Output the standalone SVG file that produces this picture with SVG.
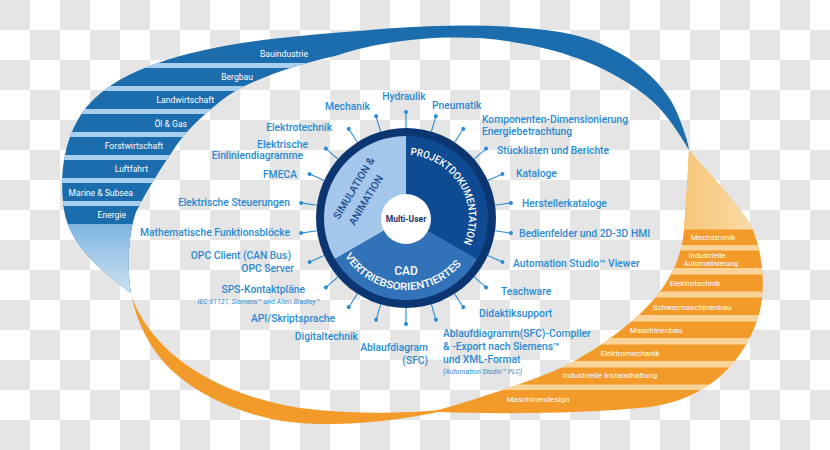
<svg xmlns="http://www.w3.org/2000/svg" width="830" height="450" viewBox="0 0 830 450">
<style>
.lbl{font-family:Roboto,'Liberation Sans',Arial,sans-serif;font-size:10.3px;font-weight:500;fill:#2b8bd2}
.end{text-anchor:end}
.mid{text-anchor:middle}
.sm{font-size:7px;font-style:italic;font-weight:400}
.band{font-family:Roboto,'Liberation Sans',Arial,sans-serif;font-size:8.6px;fill:#ffffff}
.oband{font-family:Roboto,'Liberation Sans',Arial,sans-serif;font-size:8px;fill:#ffffff;text-anchor:middle}
.spoke line{stroke:#2b8bd2;stroke-width:1.1}
.spoke circle{fill:#2b8bd2}
.sec{font-family:Roboto,'Liberation Sans',Arial,sans-serif;font-size:10.5px;font-weight:500;fill:#ffffff}
.bgap{fill:#a9cfee}
.ogap{fill:#fcd399}
</style>
<defs>
<pattern id="chk" width="60" height="60" patternUnits="userSpaceOnUse">
<rect width="60" height="60" fill="#ffffff"/>
<rect width="30" height="30" fill="#e5e5e5"/>
<rect x="30" y="30" width="30" height="30" fill="#e5e5e5"/>
</pattern>
<path id="bluePath" d="M131,293 C100,270 70,245 64,210 C58,170 66,125 95,98 C130,65 200,45 300,36 C400,27 480,20 560,32 C620,42 665,80 678,115 C684,130 688,142 689,150 C680,135 665,110 645,95 C610,68 560,45 480,38 C420,35 370,44 335,56 C290,66 245,82 222,100 C205,114 188,128 176,146 C165,162 148,188 136,212 C128,235 127,268 131,293 Z"/>
<path id="orangePath" d="M689,150 C705,170 740,205 752,228 C762,250 766,285 760,310 C754,335 740,360 716,380 C695,395 680,402 650,407 C580,414 500,414 438,412 C400,420 340,428 290,422 C230,414 180,385 158,355 C145,338 135,315 132,297 C140,320 155,338 170,352 C200,378 240,398 300,408 C350,414 400,414 438,410 C480,398 530,382 565,366 C600,348 635,322 655,298 C672,277 682,255 684,230 C686,205 688,175 689,150 Z"/>
<clipPath id="blueClip"><use href="#bluePath"/></clipPath>
<clipPath id="orangeClip"><use href="#orangePath"/></clipPath>
<linearGradient id="tailG" x1="0" y1="0" x2="0" y2="1">
<stop offset="0" stop-color="#7fb4e0"/>
<stop offset="1" stop-color="#d3e6f6"/>
</linearGradient>
<linearGradient id="oTopG" x1="0" y1="0" x2="1" y2="0">
<stop offset="0" stop-color="#f5bd63"/>
<stop offset="0.55" stop-color="#f8cf8c"/>
<stop offset="1" stop-color="#fde5c0"/>
</linearGradient>
<path id="projArc" d="M410.4,155.2 A63,63 0 0,1 462,246.6"/>
<path id="vertArc" d="M344.9,256.2 A72,72 0 0,0 467.1,256.2"/>
</defs>

<rect width="830" height="450" fill="url(#chk)"/>

<g id="orange-band">
<use href="#orangePath" fill="#f39b2a"/>
<g clip-path="url(#orangeClip)">
<rect x="640" y="140" width="140" height="89.5" fill="url(#oTopG)"/>
<rect class="ogap" x="430" y="245" width="350" height="5.5"/>
<rect class="ogap" x="430" y="268" width="350" height="6.5"/>
<rect class="ogap" x="430" y="291.5" width="350" height="6"/>
<rect class="ogap" x="430" y="315" width="350" height="6.5"/>
<rect class="ogap" x="430" y="338" width="350" height="6.5"/>
<rect class="ogap" x="430" y="361" width="350" height="6.5"/>
<rect class="ogap" x="430" y="384.5" width="350" height="5.5"/>
</g>
<text class="oband" x="713" y="240">Mechatronik</text>
<text class="oband" x="707" y="257.5" style="font-size:7.4px">Industrielle</text>
<text class="oband" x="711" y="266" style="font-size:7.4px">Automatisierung</text>
<text class="oband" x="695" y="285.5">Elektrotechnik</text>
<text class="oband" x="692" y="309.5">Schwermaschinenbau</text>
<text class="oband" x="656" y="333">Maschinenbau</text>
<text class="oband" x="630" y="355.5">Elektromechanik</text>
<text class="oband" x="610" y="378">Industrielle Instandhaltung</text>
<text class="oband" x="538" y="401.5">Maschinendesign</text>
</g>

<g id="blue-band">
<use href="#bluePath" fill="#1c6dad"/>
<g clip-path="url(#blueClip)">
<rect class="bgap" x="50" y="63" width="300" height="5"/>
<rect class="bgap" x="50" y="86" width="300" height="5"/>
<rect class="bgap" x="50" y="109" width="300" height="5"/>
<rect class="bgap" x="50" y="132" width="300" height="5"/>
<rect class="bgap" x="50" y="155" width="300" height="5"/>
<rect class="bgap" x="50" y="178" width="300" height="5"/>
<rect class="bgap" x="50" y="201" width="300" height="5"/>
<rect x="50" y="224" width="120" height="75" fill="url(#tailG)"/>
</g>
<g class="band" text-anchor="end">
<text x="308" y="57">Bauindustrie</text>
<text x="253" y="80">Bergbau</text>
<text x="214" y="103">Landwirtschaft</text>
<text x="187" y="127">Öl &amp; Gas</text>
<text x="163" y="149">Forstwirtschaft</text>
<text x="148" y="172">Luftfahrt</text>
<text x="133" y="196">Marine &amp; Subsea</text>
<text x="126" y="218">Energie</text>
</g>
</g>

<g id="connectors" class="spoke">
<g transform="translate(406 218)">
<g transform="rotate(-90)"><line x1="90" y1="0" x2="106" y2="0"/><circle cx="106" cy="0" r="2"/></g>
<g transform="rotate(-73.636)"><line x1="90" y1="0" x2="106" y2="0"/><circle cx="106" cy="0" r="2"/></g>
<g transform="rotate(-57.273)"><line x1="90" y1="0" x2="106" y2="0"/><circle cx="106" cy="0" r="2"/></g>
<g transform="rotate(-40.909)"><line x1="90" y1="0" x2="106" y2="0"/><circle cx="106" cy="0" r="2"/></g>
<g transform="rotate(-24.545)"><line x1="90" y1="0" x2="106" y2="0"/><circle cx="106" cy="0" r="2"/></g>
<g transform="rotate(-8.182)"><line x1="90" y1="0" x2="106" y2="0"/><circle cx="106" cy="0" r="2"/></g>
<g transform="rotate(8.182)"><line x1="90" y1="0" x2="106" y2="0"/><circle cx="106" cy="0" r="2"/></g>
<g transform="rotate(24.545)"><line x1="90" y1="0" x2="106" y2="0"/><circle cx="106" cy="0" r="2"/></g>
<g transform="rotate(40.909)"><line x1="90" y1="0" x2="106" y2="0"/><circle cx="106" cy="0" r="2"/></g>
<g transform="rotate(57.273)"><line x1="90" y1="0" x2="106" y2="0"/><circle cx="106" cy="0" r="2"/></g>
<g transform="rotate(73.636)"><line x1="90" y1="0" x2="106" y2="0"/><circle cx="106" cy="0" r="2"/></g>
<g transform="rotate(90)"><line x1="90" y1="0" x2="106" y2="0"/><circle cx="106" cy="0" r="2"/></g>
<g transform="rotate(106.364)"><line x1="90" y1="0" x2="106" y2="0"/><circle cx="106" cy="0" r="2"/></g>
<g transform="rotate(122.727)"><line x1="90" y1="0" x2="106" y2="0"/><circle cx="106" cy="0" r="2"/></g>
<g transform="rotate(139.091)"><line x1="90" y1="0" x2="106" y2="0"/><circle cx="106" cy="0" r="2"/></g>
<g transform="rotate(155.455)"><line x1="90" y1="0" x2="106" y2="0"/><circle cx="106" cy="0" r="2"/></g>
<g transform="rotate(171.818)"><line x1="90" y1="0" x2="106" y2="0"/><circle cx="106" cy="0" r="2"/></g>
<g transform="rotate(188.182)"><line x1="90" y1="0" x2="106" y2="0"/><circle cx="106" cy="0" r="2"/></g>
<g transform="rotate(204.545)"><line x1="90" y1="0" x2="106" y2="0"/><circle cx="106" cy="0" r="2"/></g>
<g transform="rotate(220.909)"><line x1="90" y1="0" x2="106" y2="0"/><circle cx="106" cy="0" r="2"/></g>
<g transform="rotate(237.273)"><line x1="90" y1="0" x2="106" y2="0"/><circle cx="106" cy="0" r="2"/></g>
<g transform="rotate(253.636)"><line x1="90" y1="0" x2="106" y2="0"/><circle cx="106" cy="0" r="2"/></g>
</g>
</g>

<g id="hub">
<circle cx="406" cy="218" r="90" fill="#0b3672"/>
<path d="M406,218 L334.99,259 A82,82 0 0,1 406,136 Z" fill="#a4c7eb"/>
<path d="M406,218 L406,136 A82,82 0 0,1 477.01,259 Z" fill="#0e4b92"/>
<path d="M406,218 L477.01,259 A82,82 0 0,1 334.99,259 Z" fill="#3272b8"/>
<circle cx="406" cy="219" r="25" fill="#ffffff"/>
<text x="406" y="222" text-anchor="middle" style="font-family:Roboto,'Liberation Sans',Arial,sans-serif;font-size:8.5px;font-weight:700;fill:#1d3566">Multi-User</text>
<text class="sec"><textPath href="#projArc" textLength="120" lengthAdjust="spacingAndGlyphs">PROJEKTDOKUMENTATION</textPath></text>
<text class="sec"><textPath href="#vertArc" textLength="136" lengthAdjust="spacingAndGlyphs">VERTRIEBSORIENTIERTES</textPath></text>
<text class="sec" x="406" y="275" text-anchor="middle" style="font-size:12px">CAD</text>
<text class="sec" x="357" y="190" text-anchor="middle" transform="rotate(-59 357 190)" textLength="70" lengthAdjust="spacingAndGlyphs" style="fill:#1f4f8f">SIMULATION &amp;</text>
<text class="sec" x="369" y="202" text-anchor="middle" transform="rotate(-59 369 202)" textLength="56" lengthAdjust="spacingAndGlyphs" style="fill:#1f4f8f">ANIMATION</text>
</g>

<g id="labels-right" class="lbl">
<text class="mid" x="404" y="100">Hydraulik</text>
<text x="432" y="109">Pneumatik</text>
<text x="482" y="123">Komponenten-Dimensionierung</text>
<text x="482" y="134.5">Energiebetrachtung</text>
<text x="497" y="154">Stücklisten und Berichte</text>
<text x="516" y="177">Kataloge</text>
<text x="522" y="207">Herstellerkataloge</text>
<text x="519" y="237">Bedienfelder und 2D-3D HMI</text>
<text x="513" y="267">Automation Studio™ Viewer</text>
<text x="501" y="295">Teachware</text>
<text x="479" y="317">Didaktiksupport</text>
<text x="443" y="337">Ablaufdiagramm(SFC)-Compiler</text>
<text x="443" y="350">&amp; -Export nach Siemens™</text>
<text x="443" y="363">und XML-Format</text>
<text class="sm" x="443" y="374">(Automation Studio™ PLC)</text>
</g>

<g id="labels-left" class="lbl">
<text class="end" x="370" y="110">Mechanik</text>
<text class="end" x="332" y="131">Elektrotechnik</text>
<text class="end" x="308" y="148">Elektrische</text>
<text class="end" x="303" y="159">Einliniendiagramme</text>
<text class="end" x="297" y="178">FMECA</text>
<text class="end" x="290" y="206">Elektrische Steuerungen</text>
<text class="end" x="290" y="236">Mathematische Funktionsblöcke</text>
<text class="end" x="291" y="259">OPC Client (CAN Bus)</text>
<text class="end" x="294" y="272">OPC Server</text>
<text class="end" x="305" y="293">SPS-Kontaktpläne</text>
<text class="end sm" x="320" y="304">IEC 61131, Siemens™ und Allen Bradley™</text>
<text class="end" x="335" y="322">API/Skriptsprache</text>
<text class="end" x="358" y="340">Digitaltechnik</text>
<text class="end" x="428" y="351">Ablaufdiagram</text>
<text class="end" x="428" y="364">(SFC)</text>
</g>
</svg>
